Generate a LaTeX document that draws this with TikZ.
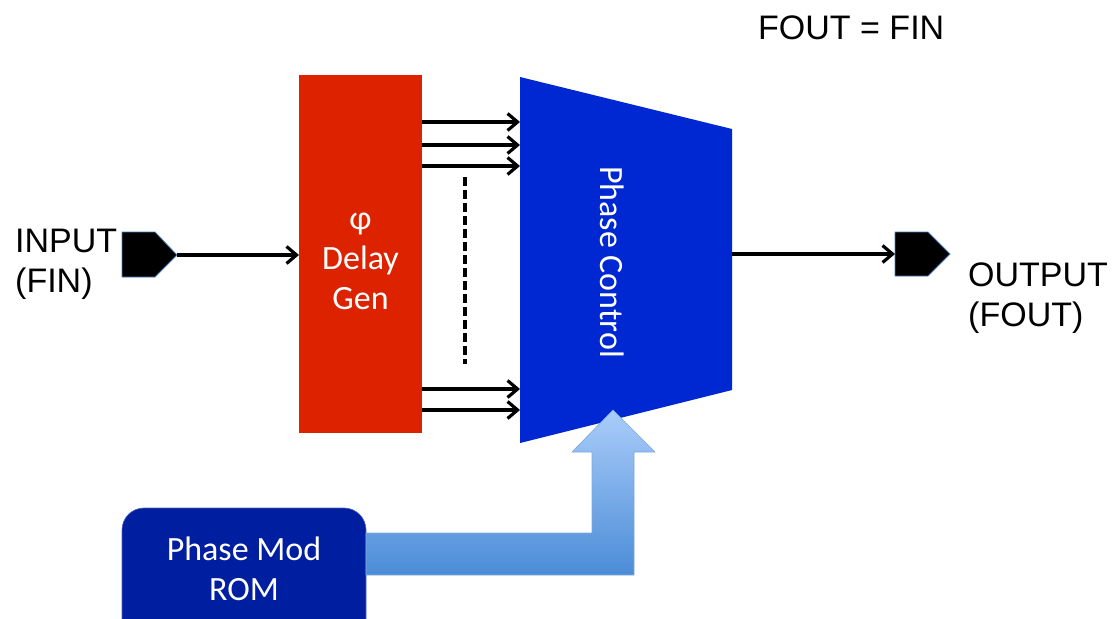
\documentclass[tikz,border=0pt]{standalone}
\usepackage{fontspec}
\setmainfont{Liberation Sans}
\newfontfamily\calfont{Carlito}
\usetikzlibrary{arrows.meta}
\definecolor{dgred}{HTML}{DD2200}
\definecolor{pcblue}{HTML}{0028D2}
\definecolor{romblue}{HTML}{001EA0}
\definecolor{fattop}{HTML}{AACDFA}
\definecolor{fatbot}{HTML}{4B8CD7}
\definecolor{fatedge}{HTML}{7FA8DC}
\definecolor{portedge}{HTML}{4A7EBB}
\begin{document}
\begin{tikzpicture}[x=1pt,y=-1pt,
  lbl/.style={font=\fontsize{34}{40}\selectfont, inner sep=0pt, align=left},
  wlbl/.style={font=\calfont\fontsize{34}{40}\selectfont, text=white, inner sep=0pt, align=center},
  arr/.style={line width=3.2pt, -{Straight Barb[length=10pt,width=17pt]}},
  port/.style={fill=black, draw=portedge, line width=0.8pt},
  box/.style={inner sep=0pt, outer sep=0pt}]
\useasboundingbox (0,0) rectangle (1115,618);
\clip (0,0) rectangle (1115,618);

% title
\node[lbl, anchor=base west] (eq) at (758,40) {FOUT = FIN};

% input port
\fill[port] (122,232) -- (155,232) -- (177,255) -- (155,277) -- (122,277) -- cycle;
\coordinate (inp) at (177,255);
\node[lbl, anchor=west] (inlbl) at (15,264) {INPUT\\(FIN)};

% delay generator
\node[box, fill=dgred, minimum width=123pt, minimum height=358pt] (delay) at (360.5,254) {};
\node[wlbl] (delaytxt) at (360.5,261) {φ\\Delay\\Gen};

% phase control trapezoid
\fill[pcblue] (520,77) -- (732,129) -- (732,390) -- (520,443) -- cycle;
\node[box, minimum width=212pt, minimum height=366pt] (pc) at (626,260) {};
\node[wlbl, rotate=-90] (pctxt) at (612,262) {Phase Control};

% connections
\draw[arr] (inp) -- (delay.west |- inp);
\foreach \yy in {122,145,166,389,410}
  \draw[arr] (delay.east |- 0,\yy) -- (pc.west |- 0,\yy);
\draw[line width=3.2pt, dash pattern=on 9pt off 4pt] (465,177) -- (465,364);

% output port
\fill[port] (895,232) -- (928,232) -- (950,254) -- (928,276) -- (895,276) -- cycle;
\coordinate (outp) at (895,254);
\draw[arr] (pc.east |- outp) -- (outp);
\node[lbl, anchor=west] (outlbl) at (968,298) {OUTPUT\\(FOUT)};

% ROM
\node[box, anchor=north west, fill=romblue, draw=romblue!70!white, line width=0.6pt,
      rounded corners=22pt, minimum width=244pt, minimum height=150pt] (rom) at (122,508) {};
\node[wlbl] (romtxt) at (244,569) {Phase Mod\\ROM};

% fat arrow
\shade[top color=fattop, bottom color=fatbot, draw=fatedge, line width=0.6pt]
  (rom.east |- 0,533) -- (592,533) -- (592,452) -- (572,452) -- (613,410)
  -- (655,452) -- (634,452) -- (634,575) -- (rom.east |- 0,575) -- cycle;
\end{tikzpicture}
\end{document}
